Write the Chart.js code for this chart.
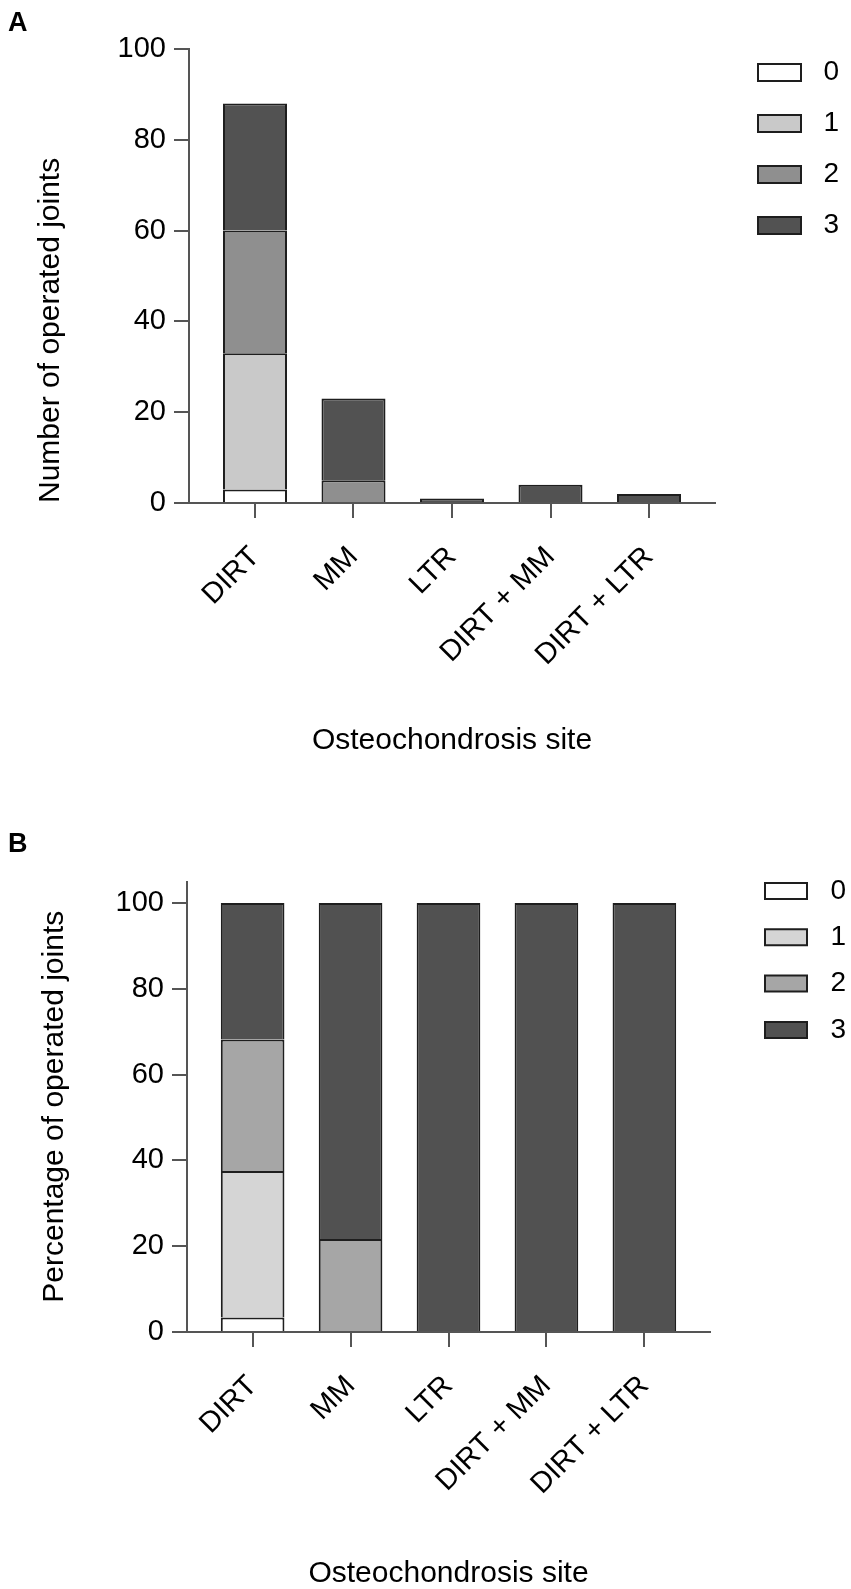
<!DOCTYPE html>
<html>
<head>
<meta charset="utf-8">
<script src="https://cdn.jsdelivr.net/npm/chart.js@4.4.1/dist/chart.umd.min.js"></script>
<style>
  body { margin: 0; background: #fff; }
  .panel { position: absolute; left: 0; width: 851px; }
  .tag { position: absolute; left: 8px; font: bold 27px "Liberation Sans", Arial, sans-serif; line-height: 27px; color: #000; }
</style>
</head>
<body>
<div class="panel" style="top:0;height:800px"><canvas id="chartA"></canvas></div>
<div class="panel" style="top:800px;height:789px"><canvas id="chartB"></canvas></div>
<div class="tag" style="top:9px">A</div>
<div class="tag" style="top:830px">B</div>
<script>
const sites = ['DIRT', 'MM', 'LTR', 'DIRT + MM', 'DIRT + LTR'];
const grades = ['0', '1', '2', '3'];

// A - number of operated joints per grade
const countG0 = [3, null, null, null, null];
const countG1 = [30, null, null, null, null];
const countG2 = [27, 5, null, null, null];
const countG3 = [28, 18, 1, 4, 2];

// B - percentage of operated joints per grade
const pctG0 = [3.4, null, null, null, null];
const pctG1 = [34.1, null, null, null, null];
const pctG2 = [30.7, 21.7, null, null, null];
const pctG3 = [31.8, 78.3, 100, 100, 100];

const yTicksA = [0, 20, 40, 60, 80, 100];
const yTicksB = [0, 20, 40, 60, 80, 100];

const axisGrey = '#555555';
Chart.defaults.font.family = '"Liberation Sans", Arial, sans-serif';
Chart.defaults.color = '#000';

// put the legend block at a fixed spot beside the plot
const legendSpot = {
  id: 'legendSpot',
  afterLayout(chart, args, opts) {
    const lg = chart.legend;
    if (!lg) return;
    const h = lg.height;
    lg.left = opts.x; lg.right = opts.textEnd;
    lg.top = opts.y; lg.bottom = opts.y + h;
  }
};

function stackedChart(id, cfg) {
  return new Chart(document.getElementById(id), {
    type: 'bar',
    data: {
      labels: sites.map((s, i) => i),
      datasets: cfg.series.map((vals, i) => ({
        label: grades[i],
        data: vals,
        backgroundColor: cfg.colors[i],
        borderColor: '#1e1e1e',
        borderWidth: 2,
        barPercentage: 0.65,
        categoryPercentage: 1
      }))
    },
    options: {
      responsive: true,
      maintainAspectRatio: false,
      animation: false,
      layout: { padding: cfg.pad },
      plugins: {
        legend: {
          position: 'chartArea',
          align: 'start',
          labels: {
            boxWidth: cfg.boxW, boxHeight: cfg.boxH, padding: cfg.legendGap,
            textAlign: 'right', color: '#000', font: { size: 28 }
          }
        },
        tooltip: { enabled: false },
        legendSpot: cfg.legendAt
      },
      scales: {
        x: {
          type: 'linear',
          stacked: true,
          min: -0.67,
          max: 4.67,
          offset: false,
          grid: { offset: false, drawOnChartArea: false, tickLength: 15, color: axisGrey, lineWidth: 2 },
          border: { color: axisGrey, width: 2 },
          ticks: {
            stepSize: 1, includeBounds: false, autoSkip: false,
            minRotation: 45, maxRotation: 45, padding: 22,
            color: '#000', font: { size: 29 },
            callback: v => sites[v]
          },
          title: {
            display: true, text: 'Osteochondrosis site', color: '#000',
            font: { size: 30 }, padding: { top: 0, bottom: cfg.xTitlePad }
          },
          afterFit: s => { s.height = cfg.xAxisH; }
        },
        y: {
          stacked: true,
          min: 0,
          max: cfg.yMax,
          grid: { drawOnChartArea: false, tickLength: 15, color: axisGrey, lineWidth: 2 },
          border: { color: axisGrey, width: 2 },
          afterBuildTicks: s => { s.ticks = cfg.yTicks.map(v => ({ value: v })); },
          ticks: { color: '#000', font: { size: 29 }, padding: 8 },
          title: {
            display: true, text: cfg.yTitle, color: '#000', align: cfg.yTitleAlign,
            font: { size: 30 }, padding: { top: cfg.yTitlePad, bottom: 0 }
          },
          afterFit: s => { s.width = cfg.yAxisW; }
        }
      }
    },
    plugins: [legendSpot]
  });
}

stackedChart('chartA', {
  series: [countG0, countG1, countG2, countG3],
  colors: ['#ffffff', '#c9c9c9', '#8f8f8f', '#525252'],
  yMax: 100,
  yTicks: yTicksA,
  yTitle: 'Number of operated joints',
  yTitleAlign: 'start',
  pad: { top: 49, right: 136, bottom: 41, left: 0 },
  yAxisW: 189,
  xAxisH: 256,
  xTitlePad: 0,
  yTitlePad: 33,
  boxW: 43, boxH: 17, legendGap: 23,
  legendAt: { x: 735, y: 35.5, textEnd: 839 }
});

stackedChart('chartB', {
  series: [pctG0, pctG1, pctG2, pctG3],
  colors: ['#ffffff', '#d5d5d5', '#a6a6a6', '#515151'],
  yMax: 105,
  yTicks: yTicksB,
  yTitle: 'Percentage of operated joints',
  yTitleAlign: 'center',
  pad: { top: 81.5, right: 141, bottom: 0, left: 0 },
  yAxisW: 187,
  xAxisH: 257,
  xTitlePad: -3,
  yTitlePad: 37,
  boxW: 42, boxH: 16, legendGap: 18.3,
  legendAt: { x: 746.7, y: 58.7, textEnd: 846 }
});
</script>
</body>
</html>
